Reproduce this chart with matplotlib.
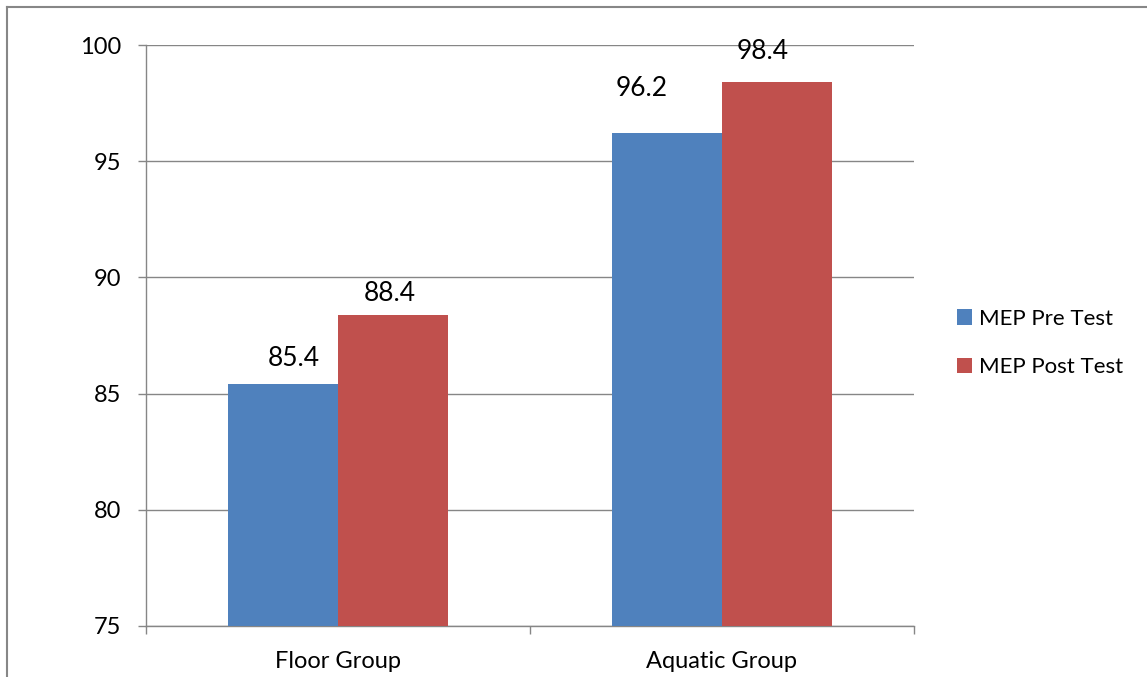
import matplotlib
matplotlib.use("Agg")
import matplotlib.pyplot as plt
from matplotlib.lines import Line2D
import numpy as np

plt.rcParams['font.family'] = ['Lato', 'DejaVu Sans']

groups = ['Floor Group', 'Aquatic Group']
series = ['MEP Pre Test', 'MEP Post Test']
pre_test = [85.4, 96.2]
post_test = [88.4, 98.4]
y_ticks = [75, 80, 85, 90, 95, 100]

colors = ['#4F81BD', '#C0504D']
grid_gray = '#868686'

# value labels were nudged by hand in the original sheet (pixels: dx, dy)
label_nudge = [[(11, 26), (-3, 21)], [(-25, 45), (-14, 31)]]

fig = plt.figure(figsize=(11.47, 6.77), dpi=100)
ax = fig.add_axes([146 / 1147, 1 - 626 / 677, 768 / 1147, 581 / 677])

x = np.arange(len(groups))
width = 110 / 384

for i, (vals, name) in enumerate(zip([pre_test, post_test], series)):
    pos = x + (i - 0.5) * width
    ax.bar(pos, np.array(vals) - 75, width, bottom=75, color=colors[i],
           label=name, zorder=3)
    for j, v in enumerate(vals):
        dx, dy = label_nudge[j][i]
        ax.annotate(f'{v}', (pos[j], v), xytext=(dx, dy),
                    textcoords='offset pixels', ha='center', va='center',
                    fontsize=19, color='black', zorder=4)

ax.set_xlim(-0.5, 1.5)
ax.set_ylim(75, 100)
ax.set_yticks(y_ticks)
ax.set_xticks([-0.5, 0.5, 1.5], minor=False)
ax.set_xticklabels([])
ax.set_xticks(x, minor=True)
ax.set_xticklabels(groups, minor=True)
ax.tick_params(axis='x', which='minor', length=0, pad=18, labelsize=17)
ax.tick_params(axis='x', which='major', length=6, color=grid_gray, width=1)
ax.tick_params(axis='y', length=6, color=grid_gray, width=1, pad=12,
               labelsize=17)

ax.yaxis.grid(True, color=grid_gray, linewidth=1, zorder=0)
ax.set_axisbelow(True)
for side in ['top', 'right']:
    ax.spines[side].set_visible(False)
for side in ['left', 'bottom']:
    ax.spines[side].set_color(grid_gray)
    ax.spines[side].set_linewidth(1)

fig.legend(loc='center left', bbox_to_anchor=(948 / 1147, 1 - 343 / 677),
           frameon=False, fontsize=16, handlelength=0.7, handleheight=0.7,
           handletextpad=0.3, labelspacing=1.3, borderaxespad=0)

# chart frame (runs off the right and bottom edges)
fig.add_artist(Line2D([7 / 1147, 7 / 1147], [0, 1 - 7 / 677],
                      transform=fig.transFigure, color='#878787', lw=1.5))
fig.add_artist(Line2D([7 / 1147, 1], [1 - 7 / 677, 1 - 7 / 677],
                      transform=fig.transFigure, color='#878787', lw=1.5))

fig.savefig('out.png', dpi=100)
